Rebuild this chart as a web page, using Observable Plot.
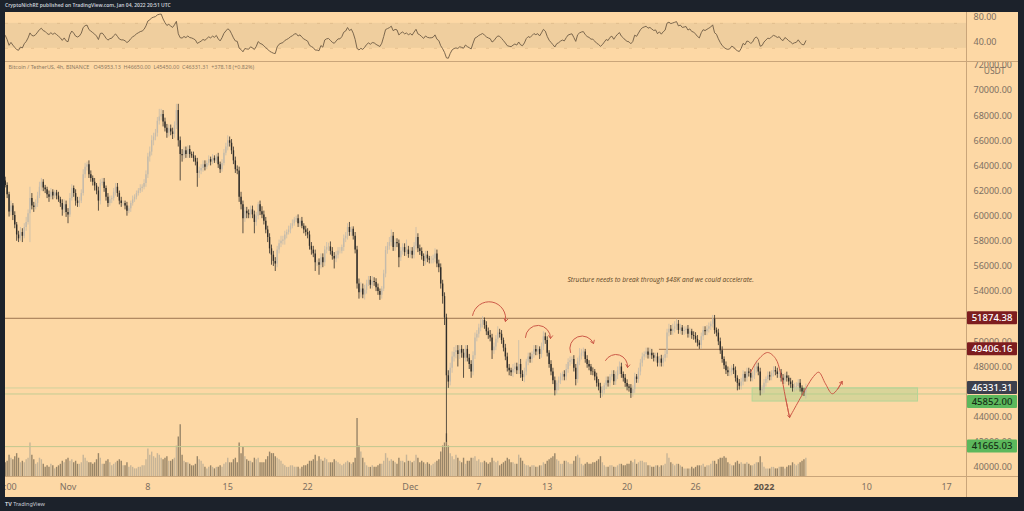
<!DOCTYPE html>
<html>
<head>
<meta charset="utf-8">
<script src="https://cdn.jsdelivr.net/npm/d3@7"></script>
<script src="https://cdn.jsdelivr.net/npm/@observablehq/plot@0.6"></script>
<style>
html,body{margin:0;padding:0;background:#1c222b;width:1024px;height:511px;overflow:hidden;font-family:"Noto Sans",sans-serif;}
#header{position:absolute;left:5px;top:2px;font-size:5px;line-height:6px;color:#c9ced6;font-weight:600;white-space:nowrap;}
#footer{position:absolute;left:5px;top:500px;font-size:5.5px;line-height:8px;color:#c9ced6;white-space:nowrap;}
#panel{position:absolute;left:5px;top:12px;width:1013px;height:485px;background:#fdd8a5;overflow:hidden;}
.layer{position:absolute;left:0;}
.sep{position:absolute;background:#c9a57a;}
</style>
</head>
<body>
<div id="header">CryptoNichRE published on TradingView.com, Jan 04, 2022 20:51 UTC</div>
<div id="panel">
  <div id="rsi" class="layer" style="top:0px"></div>
  <div id="vol" class="layer" style="top:400px"></div>
  <div id="main" class="layer" style="top:50px"></div>
  <div class="sep" style="left:0;top:49px;width:1013px;height:1px;"></div>
  <div class="sep" style="left:961px;top:0;width:1px;height:485px;"></div>
  <div class="sep" style="left:0;top:464px;width:1013px;height:1px;"></div>
</div>
<div id="footer"><b>TV</b> TradingView</div>
<script>
// ---------- DATA (BTC/USDT 4h, prices in thousands USDT) ----------
// hidden warm-up closes for the RSI (Oct 22 12:00 -> Oct 26 08:00)
const warmupCloses = [62.10,61.20,60.70, 60.90,61.40,61.20,61.00,61.50,61.30, 61.10,60.60,60.20,59.90,60.40,60.85, 61.30,61.80,62.40,62.90,63.40,63.05, 63.20,63.00,62.80];

// visible 4h closes, one row per day (Oct 26 12:00 -> Jan 4 16:00)
const closes = [
[62.45,61.70,60.33],
[60.80,60.05,59.30,58.50,58.20,58.70],
[58.40,59.10,59.50,60.20,61.40,60.80],
[60.70,61.00,61.60,62.30,62.70,62.25],
[62.10,61.70,61.50,61.90,61.60,61.85],
[61.60,61.30,61.00,60.50,60.90,60.30],
[60.10,61.40,62.20,61.80,61.20,61.00],
[61.20,61.80,63.30,63.90,64.10,63.30],
[63.00,62.70,62.40,62.00,61.20,62.60],
[62.70,62.20,61.50,61.00,61.30,61.40],
[61.90,62.30,61.80,61.20,61.00,61.00],
[60.80,60.40,60.60,61.00,61.30,61.50],
[61.80,62.00,62.20,62.30,62.60,63.30],
[64.70,65.10,66.00,66.30,66.60,67.55],
[67.90,68.10,67.50,67.00,66.60,66.95],
[66.70,66.50,67.20,68.40,66.00,64.90],
[64.80,65.20,64.90,65.30,64.90,64.80],
[64.60,64.30,63.40,63.60,63.80,64.10],
[63.90,64.20,64.50,64.30,64.60,64.40],
[64.70,64.10,63.70,64.20,65.00,65.50],
[66.00,65.80,65.20,64.40,63.70,63.60],
[61.50,60.90,59.80,60.40,60.20,60.10],
[60.50,60.10,59.50,60.00,60.90,60.35],
[60.10,59.60,58.90,58.30,57.40,56.90],
[56.40,56.20,57.30,57.80,58.00,58.10],
[58.50,58.70,58.90,59.20,59.40,59.70],
[59.80,59.40,59.60,59.20,58.90,58.70],
[58.50,57.60,57.30,57.00,56.30,56.30],
[56.10,56.70,56.30,57.30,57.50,57.55],
[57.20,56.80,56.60,56.90,57.20,57.20],
[57.50,58.20,58.40,59.10,58.70,58.95],
[58.40,57.30,54.60,53.90,54.20,53.73],
[54.10,54.60,54.90,54.50,54.80,54.72],
[54.30,54.00,53.70,54.20,55.40,57.27],
[57.60,57.90,58.40,57.50,57.90,57.80],
[56.70,57.20,57.50,57.10,57.30,56.95],
[57.20,56.90,57.60,58.30,57.40,57.18],
[56.80,56.40,56.90,56.60,56.50,56.50],
[56.60,57.00,56.20,55.90,54.60,53.60],
[51.90,47.30,46.80,47.90,48.80,49.15],
[49.30,49.00,49.40,49.10,48.70,49.40],
[48.70,48.20,47.60,48.90,50.30,50.60],
[51.10,51.40,51.70,51.30,50.80,50.50],
[50.30,49.30,49.60,50.20,50.70,50.60],
[50.10,49.50,48.80,47.90,47.70,47.55],
[47.80,48.00,47.70,48.20,47.40,47.15],
[47.60,48.40,48.80,48.60,49.00,49.40],
[49.20,49.40,49.00,49.60,50.40,50.10],
[49.10,48.20,47.60,46.90,46.10,46.70],
[46.90,47.20,47.40,47.20,47.80,48.35],
[48.50,48.60,47.90,47.00,48.40,48.86],
[49.10,49.20,48.60,48.20,48.00,47.63],
[47.60,47.20,46.70,46.40,45.90,46.13],
[46.50,46.90,46.70,47.20,47.40,46.83],
[47.30,47.70,48.00,47.40,47.10,46.68],
[46.40,46.30,45.90,46.20,47.20,47.00],
[47.60,48.30,48.80,49.00,49.20,48.93],
[49.10,48.90,48.70,48.80,48.30,48.63],
[48.30,48.70,49.00,50.70,51.00,50.82],
[51.00,51.20,51.40,50.90,51.10,50.82],
[50.90,51.00,50.60,50.80,50.50,50.43],
[50.20,49.90,49.70,50.40,50.90,50.80],
[51.00,51.20,51.40,51.80,50.90,50.70],
[50.00,49.30,48.60,48.10,47.70,47.54],
[47.60,47.90,47.70,47.10,46.70,46.46],
[46.80,47.40,47.10,47.60,47.50,47.12],
[47.30,47.80,48.00,47.60,46.10,46.20],
[46.70,47.00,47.30,47.20,47.50,47.72],
[47.60,47.40,47.50,47.10,46.90,47.29],
[47.10,46.80,46.60,46.30,46.40,46.45],
[46.70,46.30,46.00,45.95,46.33131]
].flat();

// upper wick length above the body, in hundreds of USDT
const wickUp = [
[3,2,2],[4,2,3,2,3,4],[3,3,4,3,9,4],[3,3,3,4,3,2],[2,2,3,3,2,2],[2,3,2,3,4,3],
[3,4,3,2,3,3],[3,3,4,3,2,3],[3,2,3,2,3,3],[3,3,2,3,3,2],[3,3,3,2,3,2],[2,3,2,2,3,2],
[2,2,3,2,3,3],[3,4,4,3,3,3],[6,4,3,3,3,3],[3,3,3,5,5,3],[4,3,3,3,3,2],[3,2,3,3,3,3],
[3,2,3,2,3,2],[2,3,2,3,3,3],[4,3,3,3,3,3],[3,4,3,3,3,3],[3,3,3,3,2,3],[4,3,3,3,3,3],
[3,3,3,3,4,3],[3,2,3,2,3,2],[2,3,2,3,2,3],[3,3,3,3,3,2],[3,3,3,3,4,3],[4,3,3,3,3,3],
[2,3,3,3,4,2],[2,3,3,4,5,4],[4,3,3,3,4,3],[3,3,2,2,3,3],[3,4,5,3,3,3],[3,3,3,3,8,3],
[3,3,3,8,3,3],[3,2,3,3,2,3],[3,4,3,3,3,3],[3,3,4,4,4,4],[4,4,3,3,3,3],[3,3,3,3,4,3],
[3,4,3,2,3,3],[4,3,3,3,5,3],[3,2,3,3,3,2],[4,3,3,19,4,3],[3,2,3,3,2,3],[3,3,2,3,4,3],
[3,2,3,3,3,2],[3,3,2,3,4,3],[3,2,3,3,3,6],[3,3,2,3,3,2],[3,2,3,3,3,3],[2,3,3,2,3,3],
[3,3,4,3,2,3],[3,2,3,3,3,2],[3,3,3,2,3,3],[4,3,2,3,3,2],[3,2,3,3,4,3],[4,4,4,3,3,2],
[3,2,3,3,2,3],[3,3,2,3,3,3],[3,3,2,3,3,2],[3,3,3,2,3,3],[3,2,3,3,2,3],[3,3,2,3,3,3],
[3,4,5,3,3,3],[3,2,3,3,2,3],[3,3,2,3,3,2],[3,2,3,3,3,3],[3,3,2,3,3]
].flat();

// lower wick length below the body, in hundreds of USDT
const wickDown = [
[2,3,4],[3,4,3,5,3,2],[5,2,3,2,23,3],[4,2,3,2,3,3],[3,3,4,2,3,2],[3,2,3,5,3,4],
[7,2,2,3,4,3],[3,2,2,3,3,3],[3,3,4,3,8,3],[2,3,3,3,2,3],[2,3,3,3,3,2],[3,4,2,3,2,2],
[2,2,2,3,2,3],[3,4,3,4,3,3],[3,3,4,3,4,3],[3,4,3,3,5,21],[5,3,3,3,3,2],[3,3,11,4,3,3],
[3,2,2,3,2,2],[2,3,3,2,2,2],[3,3,3,3,3,3],[4,4,12,3,4,3],[3,3,9,3,3,3],[3,3,3,4,4,8],
[4,6,3,3,3,3],[4,3,2,3,2,2],[2,3,3,2,3,3],[3,3,4,3,7,3],[8,3,4,3,3,3],[3,3,8,3,3,2],
[2,3,3,3,3,3],[3,3,4,5,4,3],[4,3,2,3,3,3],[3,3,4,3,2,3],[3,3,3,3,3,3],[8,3,3,3,3,3],
[3,3,3,3,3,3],[3,4,3,3,3,3],[3,3,3,4,4,6],[6,53,5,3,4,4],[5,10,4,4,16,3],[3,4,5,3,3,3],
[3,3,3,3,3,3],[3,7,3,3,3,3],[3,3,3,3,4,3],[4,3,3,3,3,3],[4,3,3,3,3,3],[3,3,4,3,3,3],
[3,3,3,3,4,3],[6,3,3,3,3,3],[3,3,3,5,3,3],[3,3,3,3,3,3],[3,3,3,3,4,3],[3,3,3,3,3,3],
[3,3,3,3,3,3],[3,3,4,3,3,3],[3,3,3,3,3,3],[3,3,3,3,3,3],[3,3,3,3,3,3],[3,3,3,3,3,3],
[3,3,3,3,3,3],[3,3,3,3,3,3],[3,3,3,3,3,3],[3,3,3,3,3,3],[3,3,3,3,6,3],[3,3,3,3,3,3],
[3,3,3,3,4,3],[3,3,3,3,3,3],[3,3,3,3,3,3],[3,3,3,3,3,3],[3,3,3,3,5]
].flat();

// volume per 4h bar, thousand BTC
const volumes = [
[9,10,14],[12,11,13,15,12,9],[10,9,11,12,22,14],[11,8,9,12,11,8],[6,7,6,8,7,5],[6,7,8,10,9,11],
[12,10,11,9,10,8],[8,9,14,12,10,9],[9,8,9,11,15,12],[8,8,10,11,9,7],[8,9,10,11,10,7],[7,9,6,7,6,5],
[5,6,6,7,7,11],[18,14,16,13,12,15],[14,12,11,12,13,10],[10,11,12,20,26,34],[14,10,9,9,8,7],[7,8,13,11,10,8],
[6,5,6,7,6,5],[6,6,7,6,8,9],[12,9,9,11,12,9],[22,15,19,13,11,10],[10,9,12,11,12,9],[9,9,11,13,16,15],
[15,13,12,11,10,8],[7,6,6,7,7,6],[6,6,5,6,7,7],[8,10,10,11,14,10],[13,11,10,12,11,9],[9,9,11,10,9,8],
[7,8,9,10,9,8],[9,12,38,20,16,12],[9,7,6,6,7,6],[6,7,8,8,10,15],[12,10,11,10,9,8],[12,10,10,9,14,10],
[10,9,10,14,12,9],[10,9,8,9,8,7],[8,9,10,11,16,20],[22,28,20,15,13,11],[14,12,10,9,12,8],[10,10,12,12,13,10],
[11,9,9,10,9,8],[9,12,10,9,10,7],[8,9,10,12,11,9],[9,8,8,14,12,10],[8,7,7,6,7,7],[6,6,7,7,9,8],
[10,11,12,13,15,11],[10,8,8,10,10,9],[8,8,10,13,14,12],[8,7,8,9,8,8],[9,9,10,11,13,9],[7,6,6,7,7,6],
[6,7,8,8,7,7],[8,8,10,9,11,8],[9,10,10,9,9,7],[7,6,6,7,7,6],[7,7,8,15,12,9],[8,7,8,8,7,6],
[5,5,5,5,6,5],[6,7,7,7,8,6],[7,7,8,10,10,8],[11,12,12,13,12,9],[8,7,7,9,10,8],[9,8,8,9,8,7],
[7,8,9,9,13,9],[6,5,5,5,6,6],[5,5,6,6,6,5],[6,7,7,9,8,7],[8,9,10,11,12]
].flat();

// horizontal levels and price-scale labels
const levels = [
  {value: 51874.38, bg: "#7d1d1f", fg: "#ffffff"},
  {value: 49406.16, bg: "#7d1d1f", fg: "#ffffff"},
  {value: 46331.31, bg: "#3d404d", fg: "#ffffff"},
  {value: 45852.00, bg: "#5cb85c", fg: "#163016"},
  {value: 41665.03, bg: "#5cb85c", fg: "#163016"}
];
const resistanceRayStart = "2021-12-22T20:00Z";
const supportBox = {x1: "2021-12-31T00:00Z", x2: "2022-01-14T12:00Z", y1: 45250, y2: 46300};

// price-scale ticks (46000 and 52000 sit fully behind the level labels in the reference)
const priceTicks = [40000,42000,44000,48000,50000,54000,56000,58000,60000,62000,64000,66000,68000,70000,72000];
const rsiTicks = [40, 80];
const timeTicks = [
  ["2021-10-26T12:00Z","12:00"],["2021-11-01T00:00Z","Nov"],["2021-11-08T00:00Z","8"],["2021-11-15T00:00Z","15"],
  ["2021-11-22T00:00Z","22"],["2021-12-01T00:00Z","Dec"],["2021-12-07T00:00Z","7"],["2021-12-13T00:00Z","13"],
  ["2021-12-20T00:00Z","20"],["2021-12-26T00:00Z","26"],["2022-01-01T00:00Z","2022"],["2022-01-10T00:00Z","10"],
  ["2022-01-17T00:00Z","17"]
];

// drawn annotations (red arcs and projected path)
const arcs = [
  {x1:"2021-12-06T11:00Z", y1:52100, x2:"2021-12-09T08:10Z", y2:51620, bend:90},
  {x1:"2021-12-11T02:10Z", y1:50350, x2:"2021-12-13T07:00Z", y2:50270, bend:90},
  {x1:"2021-12-15T01:00Z", y1:49150, x2:"2021-12-17T01:30Z", y2:49870, bend:88},
  {x1:"2021-12-18T02:40Z", y1:48520, x2:"2021-12-20T01:00Z", y2:47960, bend:78}
];
const pathA = [
  ["2021-12-30T19:40Z",47561],["2021-12-31T10:20Z",48516],["2022-01-01T07:25Z",49153],
  ["2022-01-02T00:15Z",48675],["2022-01-02T10:35Z",47561],["2022-01-02T21:10Z",45571],["2022-01-03T05:45Z",43980]
];
const pathB = [
  ["2022-01-03T05:45Z",43980],["2022-01-04T16:50Z",46344],["2022-01-05T08:10Z",47243],["2022-01-05T19:10Z",47585],
  ["2022-01-06T09:20Z",46662],["2022-01-06T23:30Z",45866],["2022-01-07T11:15Z",46264],["2022-01-07T20:25Z",46845]
];
const note = {x: "2021-12-14T18:40Z", y: 54960, text: "Structure needs to break through $48K and we could accelerate."};
const legendText = "Bitcoin / TetherUS, 4h, BINANCE   O45953.13  H46650.00  L45450.00  C46331.31  +378.18 (+0.82%)";

// ---------- BUILD ----------
const H4 = 4 * 3600e3;
const firstBar = Date.UTC(2021, 9, 22, 12);
const allCloses = warmupCloses.concat(closes).map(v => v * 1000);
const nW = warmupCloses.length;
const bars = closes.map((_, i) => {
  const k = i + nW, o = allCloses[k - 1], c = allCloses[k];
  return {date: new Date(firstBar + k * H4), open: o, close: c,
          high: Math.max(o, c) + wickUp[i] * 100, low: Math.min(o, c) - wickDown[i] * 100,
          volume: volumes[i], up: c >= o};
});
// RSI(14), Wilder
const rsi = [];
let ag = 0, al = 0;
for (let k = 1; k < allCloses.length; k++) {
  const ch = allCloses[k] - allCloses[k - 1];
  const g = Math.max(ch, 0), l = Math.max(-ch, 0);
  if (k <= 14) { ag += g / 14; al += l / 14; } else { ag = (ag * 13 + g) / 14; al = (al * 13 + l) / 14; }
  if (k >= 14) rsi.push({date: new Date(firstBar + k * H4), value: al === 0 ? 100 : 100 - 100 / (1 + ag / al)});
}

const xDomain = [new Date("2021-10-26T12:32Z"), new Date("2022-01-18T17:56Z")];
const upC = "#c4bbab", dnC = "#302d29";
const volUp = "#c6b497", volDn = "#988568";
const font = "Noto Sans, Open Sans, sans-serif";
const baseStyle = {background: "transparent", overflow: "hidden", fontFamily: font, fontSize: "9px"};
const axisColor = "#7e7062";
const red = "#cc5a48";

// RSI pane
const rsiPlot = Plot.plot({
  width: 1013, height: 49, marginLeft: 0, marginRight: 52, marginTop: 0, marginBottom: 0,
  x: {type: "utc", domain: xDomain, axis: null},
  y: {domain: [9, 87.4]},
  style: baseStyle,
  marks: [
    Plot.rect([0], {y1: 30, y2: 70, fill: "#efce9e"}),
    Plot.ruleY([30, 70], {stroke: "#d9b585", strokeDasharray: "3,10", strokeWidth: 0.6}),
    Plot.line(rsi, {x: "date", y: "value", stroke: "#6e5b44", strokeWidth: 0.9, clip: true}),
    Plot.axisY({anchor: "right", label: null, ticks: rsiTicks, tickFormat: d => d.toFixed(2), tickSize: 0, tickPadding: 7, color: axisColor})
  ]
});
document.getElementById("rsi").append(rsiPlot);

// Volume pane
const volPlot = Plot.plot({
  width: 1013, height: 64, marginLeft: 0, marginRight: 52, marginTop: 0, marginBottom: 0,
  x: {type: "utc", domain: xDomain, axis: null},
  y: {domain: [0, 42], axis: null},
  style: baseStyle,
  marks: [
    Plot.ruleX(bars, {x: "date", y1: 0, y2: "volume", stroke: d => d.up ? volUp : volDn, strokeWidth: 1.4, clip: true})
  ]
});
document.getElementById("vol").append(volPlot);

// Main price pane
const tickMap = new Map(timeTicks.map(([d, l]) => [+new Date(d), l]));
const toD = s => new Date(s);
const arcMarks = arcs.map(a => Plot.arrow([a], {x1: d => toD(d.x1), y1: "y1", x2: d => toD(d.x2), y2: "y2",
  bend: a.bend, stroke: red, strokeWidth: 1, headLength: 5, headAngle: 70}));
const lastTwo = pathB.slice(-2);
const mainPlot = Plot.plot({
  width: 1013, height: 435, marginLeft: 0, marginRight: 52, marginTop: 0, marginBottom: 21,
  x: {type: "utc", domain: xDomain},
  y: {domain: [39286, 72228]},
  style: baseStyle,
  marks: [
    Plot.ruleY([levels[2].value], {stroke: "#cfd29c", strokeWidth: 1}),
    Plot.ruleY([levels[3].value], {stroke: "#c3cd93", strokeWidth: 1}),
    Plot.ruleY([levels[4].value], {stroke: "#c2c78f", strokeWidth: 1}),
    Plot.rect([supportBox], {x1: d => toD(d.x1), x2: d => toD(d.x2), y1: "y1", y2: "y2",
      fill: "#a6cf88", fillOpacity: 0.42, stroke: "#b5d597", strokeWidth: 1}),
    Plot.ruleY([levels[0].value], {stroke: "#9c7450", strokeWidth: 1}),
    Plot.ruleY([levels[1].value], {x1: toD(resistanceRayStart), x2: xDomain[1], stroke: "#9c7450", strokeWidth: 1}),
    Plot.ruleX(bars, {x: "date", y1: "low", y2: "high", stroke: d => d.up ? upC : dnC, strokeWidth: 0.8, clip: true}),
    Plot.ruleX(bars, {x: "date", y1: "open", y2: "close", stroke: d => d.up ? upC : dnC, strokeWidth: 1.4, clip: true}),
    ...arcMarks,
    Plot.line(pathA, {x: d => toD(d[0]), y: d => d[1], curve: "catmull-rom", stroke: red, strokeWidth: 1}),
    Plot.arrow([pathA.slice(-2)], {x1: d => toD(d[0][0]), y1: d => d[0][1], x2: d => toD(d[1][0]), y2: d => d[1][1],
      stroke: red, strokeWidth: 1, headLength: 4, headAngle: 70, strokeOpacity: 0.9}),
    Plot.line(pathB, {x: d => toD(d[0]), y: d => d[1], curve: "catmull-rom", stroke: red, strokeWidth: 1}),
    Plot.arrow([lastTwo], {x1: d => toD(d[0][0]), y1: d => d[0][1], x2: d => toD(d[1][0]), y2: d => d[1][1],
      stroke: red, strokeWidth: 1, headLength: 5, headAngle: 70}),
    Plot.text([note], {x: d => toD(d.x), y: "y", text: "text", textAnchor: "start", fontSize: 6.6,
      fontStyle: "italic", fill: "#5b4526", fontFamily: "Open Sans, Noto Sans, sans-serif"}),
    Plot.text([legendText], {text: d => d, frameAnchor: "top-left", dx: 3, dy: 5, textAnchor: "start",
      lineAnchor: "middle", fontSize: 5.4, fill: "#8d7a63"}),
    Plot.text(["USDT"], {text: d => d, frameAnchor: "top-right", dx: 28, dy: 9, textAnchor: "middle",
      lineAnchor: "middle", fontSize: 8.5, fill: axisColor}),
    Plot.axisY({anchor: "right", label: null, ticks: priceTicks, tickFormat: d => d.toFixed(2), tickSize: 0, tickPadding: 7, color: axisColor}),
    Plot.axisX({label: null, ticks: timeTicks.map(t => new Date(t[0])), tickFormat: d => tickMap.get(+d), tickSize: 0, tickPadding: 7, color: axisColor})
  ]
});
document.getElementById("main").append(mainPlot);

// bold year label
d3.select(mainPlot).selectAll("text").filter(function () { return this.textContent === "2022"; })
  .attr("font-weight", "bold").attr("fill", "#5e5246");

// price-scale label boxes, placed through the y scale, stacked to avoid overlap
const ys = mainPlot.scale("y");
const boxH = 13, boxX = 962, boxW = 50;
const placed = levels.map(l => ({...l, cy: ys.apply(l.value)})).sort((a, b) => a.cy - b.cy);
for (let i = 1; i < placed.length; i++) {
  const prev = placed[i - 1];
  if (placed[i].cy - prev.cy < boxH + 1) placed[i].cy = prev.cy + boxH + 1;
}
const g = d3.select(mainPlot).append("g");
for (const p of placed) {
  g.append("rect").attr("x", boxX).attr("y", p.cy - boxH / 2).attr("width", boxW).attr("height", boxH)
    .attr("rx", 1).attr("fill", p.bg);
  g.append("text").attr("x", boxX + boxW / 2).attr("y", p.cy).attr("dy", "0.35em").attr("text-anchor", "middle")
    .attr("fill", p.fg).attr("font-size", 9.5).attr("font-family", font).attr("font-weight", 500)
    .text(p.value.toFixed(2));
}
</script>
</body>
</html>
